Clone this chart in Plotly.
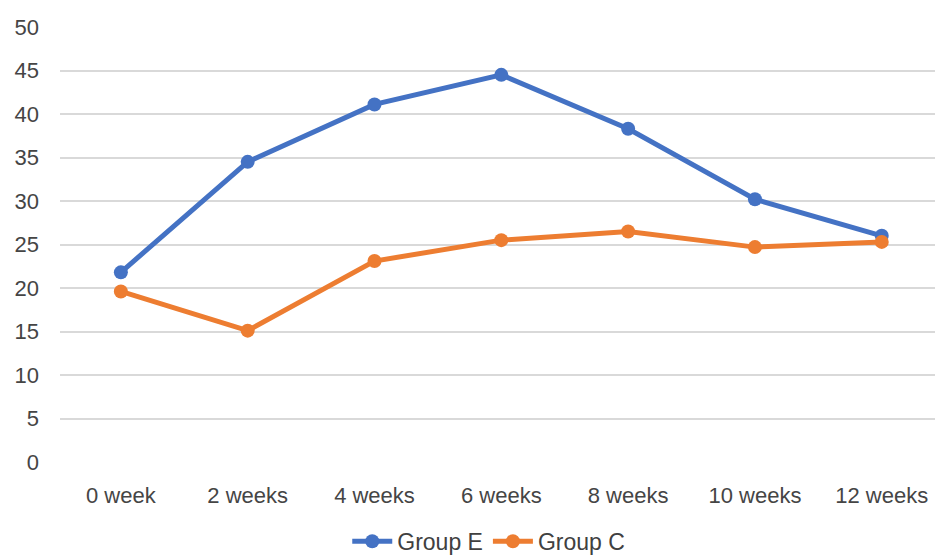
import plotly.graph_objects as go

# Time points and measured values per group
weeks = ["0 week", "2 weeks", "4 weeks", "6 weeks", "8 weeks", "10 weeks", "12 weeks"]
group_e = [21.8, 34.5, 41.1, 44.5, 38.3, 30.2, 26.0]
group_c = [19.6, 15.1, 23.1, 25.5, 26.5, 24.7, 25.3]

BLUE = "#4472C4"
ORANGE = "#ED7D31"

fig = go.Figure()
fig.add_trace(go.Scatter(
    x=weeks, y=group_e, name="Group E", mode="lines+markers",
    line=dict(color=BLUE, width=5), marker=dict(color=BLUE, size=14),
))
fig.add_trace(go.Scatter(
    x=weeks, y=group_c, name="Group C", mode="lines+markers",
    line=dict(color=ORANGE, width=5), marker=dict(color=ORANGE, size=14),
))

fig.update_layout(
    width=935, height=558,
    margin=dict(l=60, r=0, t=27, b=96, autoexpand=False),
    paper_bgcolor="white", plot_bgcolor="white",
    font=dict(family="Liberation Sans, Arial, sans-serif", size=22, color="#454545"),
    showlegend=True,
    legend=dict(
        orientation="h", xref="paper", x=0.49, xanchor="center",
        yref="container", y=0.03, yanchor="middle",
        font=dict(size=23, color="#404040"), itemwidth=40,
    ),
    xaxis=dict(
        type="category", range=[-0.48, 6.42], showgrid=False, showline=False,
        zeroline=False, ticks="", ticklabelstandoff=18, automargin=False,
    ),
    yaxis=dict(
        range=[0, 50], dtick=5, showgrid=True, gridcolor="#D9D9D9", gridwidth=1.5,
        zeroline=False, showline=False, ticks="", ticklabelstandoff=20, automargin=False,
    ),
)

fig.write_html("out.html")
